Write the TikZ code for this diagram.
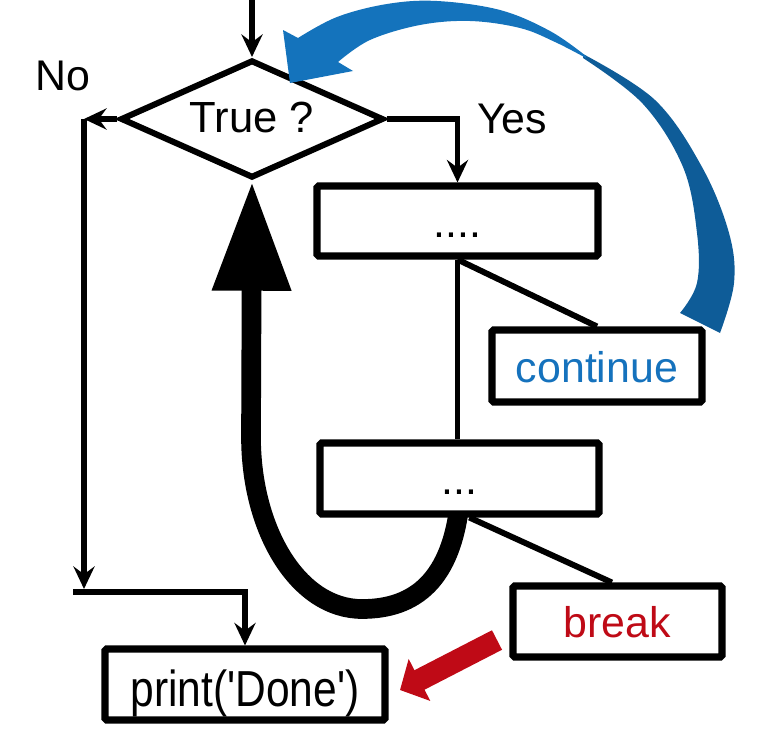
\documentclass[tikz,border=0pt]{standalone}
\usepackage{fontspec}
\setmainfont{Liberation Sans}
\usetikzlibrary{arrows.meta,shapes.geometric,calc}
\definecolor{bfront}{RGB}{20,115,188}
\definecolor{bback}{RGB}{14,92,152}
\definecolor{contblue}{RGB}{21,114,189}
\definecolor{breakred}{RGB}{191,10,22}
\newcommand\lblfont{\fontsize{30.5pt}{36pt}\selectfont}
\newcommand\uu{0.025cm}
\begin{document}
\begin{tikzpicture}[x=0.025cm,y=-0.025cm,
  box/.style={draw, line width=5pt, rounded corners=1.2pt, fill=white, inner sep=0pt,
              text height=22.8pt, text depth=0pt, font=\lblfont},
  conn/.style={line width=4.2pt},
  arr/.style={-{Stealth[length=16pt,width=15pt,inset=5.5pt]}},
  txt/.style={font=\lblfont, inner sep=0pt, anchor=base}]
\useasboundingbox (0,0) rectangle (770,730);

% decision
\node[draw, diamond, aspect=2.2, line width=4.3pt, inner sep=0pt,
      minimum width=263*\uu, minimum height=118*\uu,
      text height=19.9pt, text depth=0pt, font=\fontsize{31pt}{36pt}\selectfont] (dia) at (252,119) {True ?};

% thick loop-back arrow (drawn under box 2)
\coordinate (uS) at (460,500);
\coordinate (uL) at (251,437);
\draw[line width=14pt, -{Triangle[length=78pt,width=52.6pt]}]
  (uS) .. controls (452,580) and (415,609) .. (362,609)
       .. controls (298,609) and (251,530) .. (uL) -- (dia.south);

% boxes
\node[box, minimum width=281*\uu, minimum height=70*\uu] (b1) at (457.5,221) {....};
\node[box, text=contblue, minimum width=210*\uu, minimum height=72*\uu] (cont) at (597,366) {continue};
\node[box, minimum width=279*\uu, minimum height=71*\uu] (b2) at (459.5,478.5) {...};
\node[box, text=breakred, minimum width=209*\uu, minimum height=71*\uu] (brk) at (617.5,621.5) {break};
\node[box, text height=31.9pt, minimum width=280*\uu, minimum height=71*\uu] (pr) at (245,684.5)
  {\scalebox{0.84}[1]{\fontsize{36pt}{40pt}\selectfont print(\textquotesingle Done\textquotesingle)}};

% labels
\node[txt] (no) at (63,90) {No};
\node[txt] (yes) at (512,133) {Yes};

% connectors
\coordinate (top) at (252,0);
\coordinate (nL) at (84,119);
\coordinate (nB) at (84,589);
\coordinate (mL) at (73,592);
\draw[conn,arr] (top) -- (dia.north);
\draw[conn,arr] (dia.west) -- (nL);
\draw[conn,arr] (nL) -- (nB);
\draw[conn,arr] (mL) -- (pr.north |- mL) -- (pr.north);
\draw[conn,arr] (dia.east) -- (b1.north |- dia.east) -- (b1.north);
\draw[conn] (b1.south) -- (b1.south |- b2.north);
\draw[conn] (b1.south) -- (cont.north);
\draw[conn] ([xshift=7pt]b2.south) -- ([xshift=-4pt]brk.north);

% red break arrow
\coordinate (rS) at (497,640);
\coordinate (rE) at (400,690);
\draw[line width=15.6pt, breakred, -{Triangle[length=15.6pt,width=32.7pt]}] (rS) -- (rE);

% blue continue arrow (back part then front part)
\fill[bback] plot[smooth, tension=0.6] coordinates {(583,54) (655,100) (702,167) (729,233) (734,283) (720,333)}
  -- (680,313)
  -- plot[smooth, tension=0.6] coordinates {(680,313) (697,283) (697,233) (683,167) (643,104) (583,58)} -- cycle;
\fill[bfront] plot[smooth, tension=0.6] coordinates {(586,56) (550,31) (500,10) (437,1) (387,4) (337,17) (298,38)}
  -- (283,30) -- (290,83) -- (353,71) -- (338,62)
  -- plot[smooth, tension=0.6] coordinates {(338,62) (370,40) (420,25) (470,21) (520,28) (555,42) (586,58)} -- cycle;
\end{tikzpicture}
\end{document}
